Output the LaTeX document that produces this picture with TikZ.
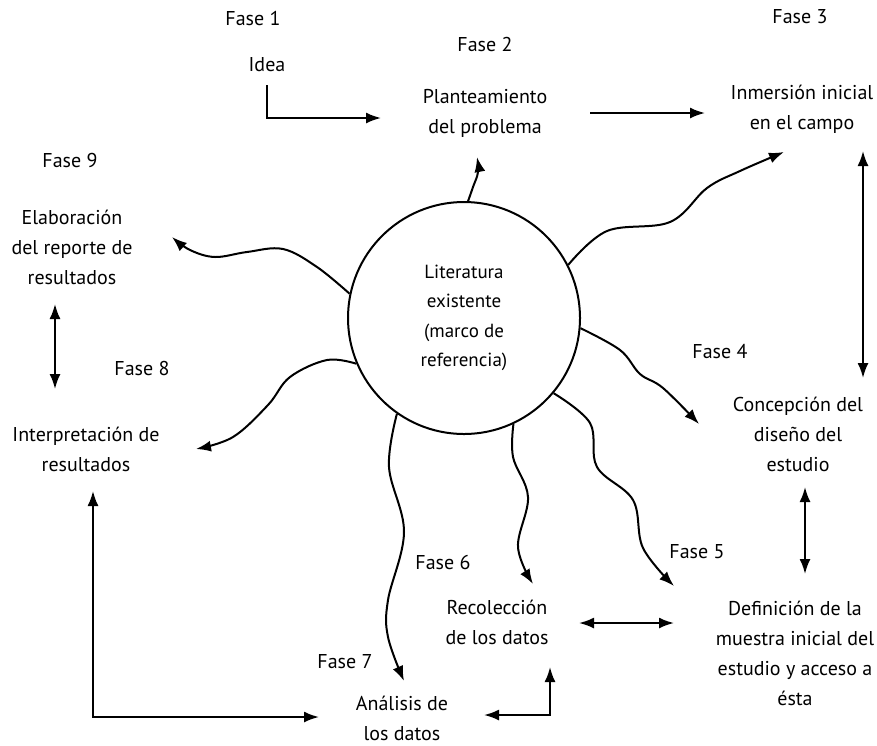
\documentclass[tikz,border=0pt]{standalone}
\usepackage{fontspec}
\setmainfont{PT Sans}
\usetikzlibrary{arrows.meta}
\begin{document}
\begin{tikzpicture}[x=1pt,y=-1pt,
  lbl/.style={font=\fontsize{20}{30}\selectfont, align=center, inner sep=0pt},
  con/.style={line width=2pt, -{Latex[length=15pt,width=11pt]}},
  dbl/.style={line width=2pt, {Latex[length=15pt,width=11pt]}-{Latex[length=15pt,width=11pt]}}]
\useasboundingbox (0,0) rectangle (877,745);
% central circle
\node[circle, draw, line width=2pt, minimum size=232pt, inner sep=0pt, align=center,
  font=\fontsize{19}{29.5}\selectfont] (lit) at (464,318)
  {Literatura\\existente\\(marco de\\referencia)};
% labels
\node[lbl] (f1) at (253,18) {Fase 1};
\node[lbl] (idea) at (267,65) {Idea};
\node[lbl] (f2) at (485,44) {Fase 2};
\node[lbl] (plan) at (485,113) {Planteamiento\\del problema};
\node[lbl] (f3) at (800,17) {Fase 3};
\node[lbl] (inm) at (802,109) {Inmersión inicial\\en el campo};
\node[lbl] (f9) at (70,160) {Fase 9};
\node[lbl] (elab) at (72,247) {Elaboración\\del reporte de\\resultados};
\node[lbl] (f8) at (142,368) {Fase 8};
\node[lbl] (interp) at (86,449) {Interpretación de\\resultados};
\node[lbl] (f4) at (720,352) {Fase 4};
\node[lbl] (conc) at (798,434) {Concepción del\\diseño del\\estudio};
\node[lbl] (f5) at (697,552) {Fase 5};
\node[lbl] (defi) at (795,653) {Definición de la\\muestra inicial del\\estudio y acceso a\\ésta};
\node[lbl] (f6) at (443,562) {Fase 6};
\node[lbl] (reco) at (497,622) {Recolección\\de los datos};
\node[lbl] (f7) at (345,662) {Fase 7};
\node[lbl] (anal) at (402,718) {Análisis de\\los datos};
% arrow end coordinates
\coordinate (ideaS) at (267,85);
\coordinate (planW) at (381,118);
\coordinate (planE) at (590,113);
\coordinate (inmW) at (705,113);
\coordinate (inmS) at (863,151);
\coordinate (concN) at (863,378);
\coordinate (concS) at (805,487);
\coordinate (defiN) at (805,574);
\coordinate (recoE) at (579,623);
\coordinate (defiW) at (674,623);
\coordinate (recoS) at (550,667);
\coordinate (analE) at (484,715);
\coordinate (interpS) at (93,491);
\coordinate (analW) at (319,717);
\coordinate (elabS) at (55,304);
\coordinate (interpN) at (55,389);
% straight connectors
\draw[con] (ideaS) |- (planW);
\draw[con] (planE) -- (inmW);
\draw[dbl] (inmS) -- (concN);
\draw[dbl] (concS) -- (defiN);
\draw[dbl] (recoE) -- (defiW);
\draw[dbl] (recoS) |- (analE);
\draw[dbl] (interpS) |- (analW);
\draw[dbl] (elabS) -- (interpN);
% wavy connectors from the circle
\coordinate (t1) at (477,157);
\coordinate (t2) at (784,152);
\coordinate (t3) at (699,424);
\coordinate (t4) at (674,586);
\coordinate (t5) at (533,584);
\coordinate (t6) at (404,681);
\coordinate (t7) at (196,449);
\coordinate (t8) at (172,237);
\draw[con] plot[smooth, tension=0.7] coordinates {(lit.88) (473,187) (478,172) (t1)};
\draw[con] plot[smooth, tension=0.6] coordinates {(lit.27) (607,231) (670,222) (707,188) (740,171) (t2)};
\draw[con] plot[smooth, tension=0.6] coordinates {(lit.-5) (620,350) (640,374) (663,388) (t3)};
\draw[con] plot[smooth, tension=0.6] coordinates {(lit.-40) (590,423) (597,467) (633,500) (643,548) (t4)};
\draw[con] plot[smooth, tension=0.6] coordinates {(lit.-65) (513,457) (528,497) (518,547) (t5)};
\draw[con] plot[smooth, tension=0.6] coordinates {(lit.-125) (389,467) (404,532) (388,600) (388,637) (t6)};
\draw[con] plot[smooth, tension=0.6] coordinates {(lit.-157) (327,360) (290,377) (268,405) (233,437) (t7)};
\draw[con] plot[smooth, tension=0.6] coordinates {(lit.168) (317,267) (283,249) (247,252) (215,257) (190,250) (t8)};
\end{tikzpicture}
\end{document}
